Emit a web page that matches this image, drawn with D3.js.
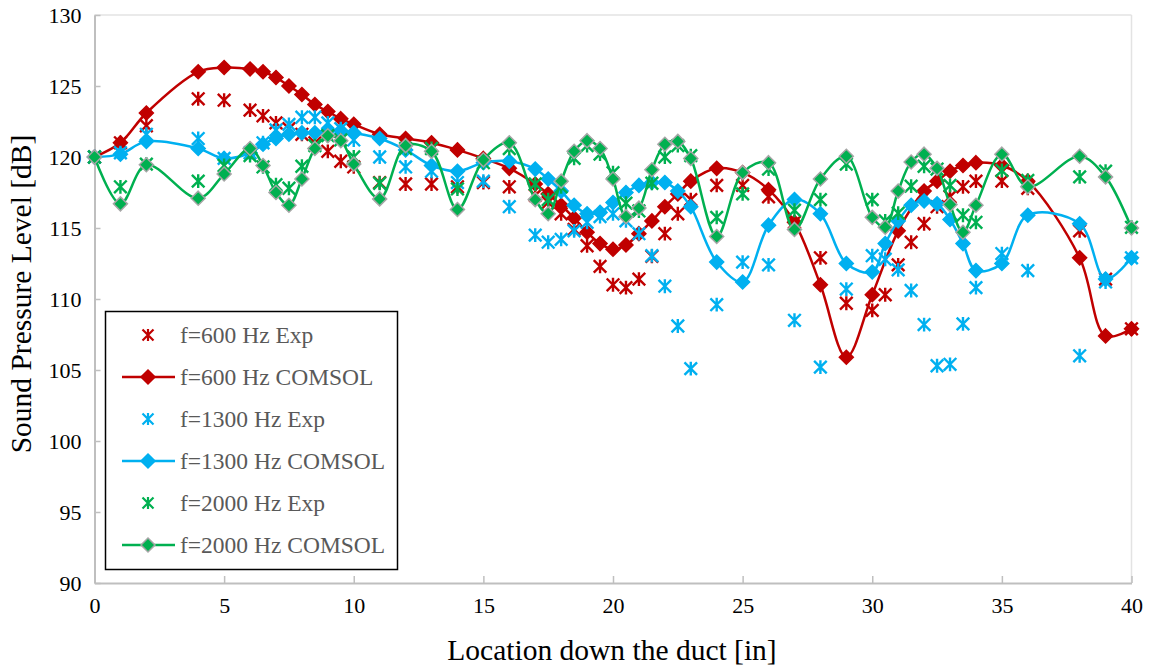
<!DOCTYPE html>
<html>
<head>
<meta charset="utf-8">
<script src="https://cdn.jsdelivr.net/npm/d3@7/dist/d3.min.js"></script>
<style>
  html, body { margin: 0; padding: 0; background: #fff; }
  svg { display: block; }
  text { font-family: "Liberation Serif", "Times New Roman", serif; }
</style>
</head>
<body>
<svg id="chart" width="1151" height="670"></svg>
<script>
// Measurement positions along the duct [in]
const expPositions = [0,1,2,4,5,6,6.5,7,7.5,8,8.5,9,9.5,10,11,12,13,14,15,16,17,17.5,18,18.5,19,19.5,20,20.5,21,21.5,22,22.5,23,24,25,26,27,28,29,30,30.5,31,31.5,32,32.5,33,33.5,34,35,36,38,39,40];
const simPositions = [0,1,2,4,5,6,6.5,7,7.5,8,8.5,9,9.5,10,11,12,13,14,15,16,17,17.5,18,18.5,19,19.5,20,20.5,21,21.5,22,22.5,23,24,25,26,27,28,29,30,30.5,31,31.5,32,32.5,33,33.5,34,35,36,38,39,40];
const sim600Positions = [0,1,2,4,5,6,6.5,7,7.5,8,8.5,9,9.5,10,11,12,13,14,15,16,17,17.5,18,18.5,19,19.5,20,20.5,21,21.5,22,22.5,23,24,25,26,27,28,29,30,31,32,32.5,33,33.5,34,35,36,38,39,40];

// Sound pressure level [dB]
const exp600 = [120.0,121.0,122.2,124.1,124.0,123.3,122.9,122.4,122.0,121.6,121.0,120.4,119.7,119.3,118.2,118.1,118.1,117.9,118.2,117.9,117.3,116.8,116.0,114.9,113.75,112.3,111.0,110.8,111.4,113.0,114.6,116.0,117.0,118.0,118.0,117.2,115.4,112.9,109.7,109.2,110.3,112.4,114.0,115.3,116.5,117.2,117.9,118.3,118.3,117.8,114.8,111.4,107.9];
const sim600 = [120.0,121.0,123.1,126.0,126.3,126.2,126.0,125.6,125.0,124.4,123.7,123.2,122.7,122.3,121.6,121.3,121.0,120.5,119.9,119.2,118.1,117.4,116.6,115.7,114.7,113.9,113.5,113.8,114.6,115.5,116.5,117.4,118.3,119.2,118.9,117.7,115.4,111.0,105.9,110.3,114.8,117.6,118.3,119.0,119.4,119.6,119.4,118.3,112.9,107.4,107.9];
const exp1300 = [120.0,120.3,121.6,121.3,119.9,120.3,121.0,121.9,122.3,122.8,122.8,122.4,122.0,121.2,120.0,119.3,119.0,118.2,118.3,116.5,114.5,114.0,114.2,114.8,115.4,115.8,116.0,115.5,114.6,113.05,110.9,108.1,105.1,109.6,112.6,112.4,108.5,105.2,110.7,113.05,112.8,112.05,110.6,108.2,105.3,105.4,108.25,110.8,113.2,112.0,106.0,111.2,112.9];
const sim1300 = [120.0,120.2,121.1,120.6,119.9,120.3,120.9,121.3,121.6,121.7,121.7,121.85,121.85,121.7,121.3,120.5,119.4,119.0,119.6,119.7,119.15,118.45,117.6,116.6,116.0,116.1,116.8,117.5,118.0,118.2,118.2,117.6,116.5,112.6,111.2,115.2,117.0,116.0,112.5,111.9,113.9,115.5,116.6,116.9,116.7,115.6,113.9,112.0,112.5,115.9,115.3,111.4,112.9];
const exp2000 = [120.0,117.9,119.5,118.3,119.4,120.1,119.3,118.05,117.8,119.35,120.8,121.5,121.2,120.0,118.15,120.6,120.6,117.75,119.6,120.6,118.1,117.0,117.9,119.9,120.8,120.2,118.9,116.75,116.2,118.15,120.0,120.8,120.1,115.75,117.4,119.15,116.25,117.0,119.5,117.0,115.5,116.05,117.95,119.35,119.15,118.0,115.9,115.4,119.05,118.35,118.6,119.0,115.05];
const sim2000 = [120.0,116.7,119.45,117.1,118.8,120.6,119.4,117.5,116.6,118.45,120.6,121.5,121.15,119.5,117.05,120.8,120.4,116.3,119.8,121.0,117.0,116.0,118.3,120.4,121.15,120.6,118.45,115.8,116.4,119.1,120.9,121.1,119.9,114.4,118.9,119.6,114.9,118.45,120.05,115.75,115.05,117.6,119.65,120.2,119.2,116.65,114.7,116.6,120.2,117.9,120.05,118.6,115.0];

// Axis ticks
const xTicks = [0,5,10,15,20,25,30,35,40];
const yTicks = [90,95,100,105,110,115,120,125,130];

const legendLabels = ["f=600 Hz Exp","f=600 Hz COMSOL","f=1300 Hz Exp","f=1300 Hz COMSOL","f=2000 Hz Exp","f=2000 Hz COMSOL"];

const RED = "#c00000", BLUE = "#00b0f0", GREEN = "#00b050";

const series = [
  { name: legendLabels[0], xs: expPositions, ys: exp600, color: RED, kind: "star" },
  { name: legendLabels[1], xs: sim600Positions, ys: sim600, color: RED, kind: "line", outline: RED },
  { name: legendLabels[2], xs: expPositions, ys: exp1300, color: BLUE, kind: "star" },
  { name: legendLabels[3], xs: simPositions, ys: sim1300, color: BLUE, kind: "line", outline: BLUE },
  { name: legendLabels[4], xs: expPositions, ys: exp2000, color: GREEN, kind: "star" },
  { name: legendLabels[5], xs: simPositions, ys: sim2000, color: GREEN, kind: "line", outline: "#a6a6a6" }
];

const svg = d3.select("#chart");
const plotLeft = 94.5, plotRight = 1131.5, plotTop = 15, plotBottom = 583;

const x = d3.scaleLinear().domain([0, 40]).range([plotLeft, plotRight]);
const y = d3.scaleLinear().domain([90, 130]).range([plotBottom, plotTop]);

// Plot frame: light border on top/right, darker axis lines left/bottom
svg.append("line").attr("x1", plotLeft).attr("x2", plotRight).attr("y1", plotTop).attr("y2", plotTop)
  .attr("stroke", "#e3e3e3").attr("stroke-width", 1.5);
svg.append("line").attr("x1", plotRight).attr("x2", plotRight).attr("y1", plotTop).attr("y2", plotBottom)
  .attr("stroke", "#e3e3e3").attr("stroke-width", 1.5);

const xAxis = d3.axisBottom(x).tickValues(xTicks).tickSizeInner(-7).tickSizeOuter(0).tickPadding(20);
const yAxis = d3.axisLeft(y).tickValues(yTicks).tickSizeInner(-6).tickSizeOuter(0).tickPadding(20);

const gx = svg.append("g").attr("transform", `translate(0,${plotBottom})`).call(xAxis);
const gy = svg.append("g").attr("transform", `translate(${plotLeft},0)`).call(yAxis);

[gx, gy].forEach(g => {
  g.select(".domain").attr("stroke", "#bfbfbf").attr("stroke-width", 2);
  g.selectAll(".tick line").attr("stroke", "#bfbfbf").attr("stroke-width", 1.5);
  g.selectAll(".tick text").attr("fill", "#000").style("font-size", "22px")
    .style("font-family", "'Liberation Serif', 'Times New Roman', serif");
});
gy.selectAll(".tick text").attr("x", -13);
gx.selectAll(".tick text").attr("y", 14);

// Axis titles
svg.append("text").attr("x", (plotLeft + plotRight) / 2 - 1).attr("y", 660).attr("text-anchor", "middle")
  .style("font-size", "29.5px").attr("fill", "#000").text("Location down the duct [in]");
svg.append("text").attr("transform", `translate(31,${(plotTop + plotBottom) / 2 - 5}) rotate(-90)`)
  .attr("text-anchor", "middle").style("font-size", "29.5px").attr("fill", "#000")
  .text("Sound Pressure Level [dB]");

// Marker shapes
function starPath(r) {
  return `M${-r},${-r}L${r},${r}M${-r},${r}L${r},${-r}M0,${-r * 1.1}L0,${r * 1.1}`;
}
function diamondPath(r) {
  return `M0,${-r}L${r},0L0,${r}L${-r},0Z`;
}

const line = d3.line().x(d => x(d[0])).y(d => y(d[1])).curve(d3.curveCatmullRom.alpha(0.5));

const plot = svg.append("g");
series.forEach(s => {
  const pts = s.xs.map((v, i) => [v, s.ys[i]]);
  const g = plot.append("g");
  if (s.kind === "line") {
    g.append("path").datum(pts).attr("d", line).attr("fill", "none")
      .attr("stroke", s.color).attr("stroke-width", 2.5);
    g.selectAll("path.mk").data(pts).join("path").attr("class", "mk")
      .attr("transform", d => `translate(${x(d[0])},${y(d[1])})`)
      .attr("d", diamondPath(7))
      .attr("fill", s.color).attr("stroke", s.outline).attr("stroke-width", 1.5);
  } else {
    g.selectAll("path.mk").data(pts).join("path").attr("class", "mk")
      .attr("transform", d => `translate(${x(d[0])},${y(d[1])})`)
      .attr("d", starPath(6.3))
      .attr("fill", "none").attr("stroke", s.color).attr("stroke-width", 2.4);
  }
});

// Legend
const lg = svg.append("g");
lg.append("rect").attr("x", 105.5).attr("y", 311.5).attr("width", 292).attr("height", 258)
  .attr("fill", "#fff").attr("stroke", "#000").attr("stroke-width", 1.5);
series.forEach((s, i) => {
  const cy = 335 + i * 42;
  if (s.kind === "line") {
    lg.append("line").attr("x1", 122).attr("x2", 175).attr("y1", cy).attr("y2", cy)
      .attr("stroke", s.color).attr("stroke-width", 2.5);
    lg.append("path").attr("transform", `translate(148,${cy})`).attr("d", diamondPath(7))
      .attr("fill", s.color).attr("stroke", s.outline).attr("stroke-width", 1.5);
  } else {
    lg.append("path").attr("transform", `translate(148,${cy})`).attr("d", starPath(5.5))
      .attr("fill", "none").attr("stroke", s.color).attr("stroke-width", 2.2);
  }
  lg.append("text").attr("x", 180).attr("y", cy).attr("dy", "0.35em")
    .style("font-size", "23.5px").attr("fill", "#595959").text(s.name);
});
</script>
</body>
</html>
